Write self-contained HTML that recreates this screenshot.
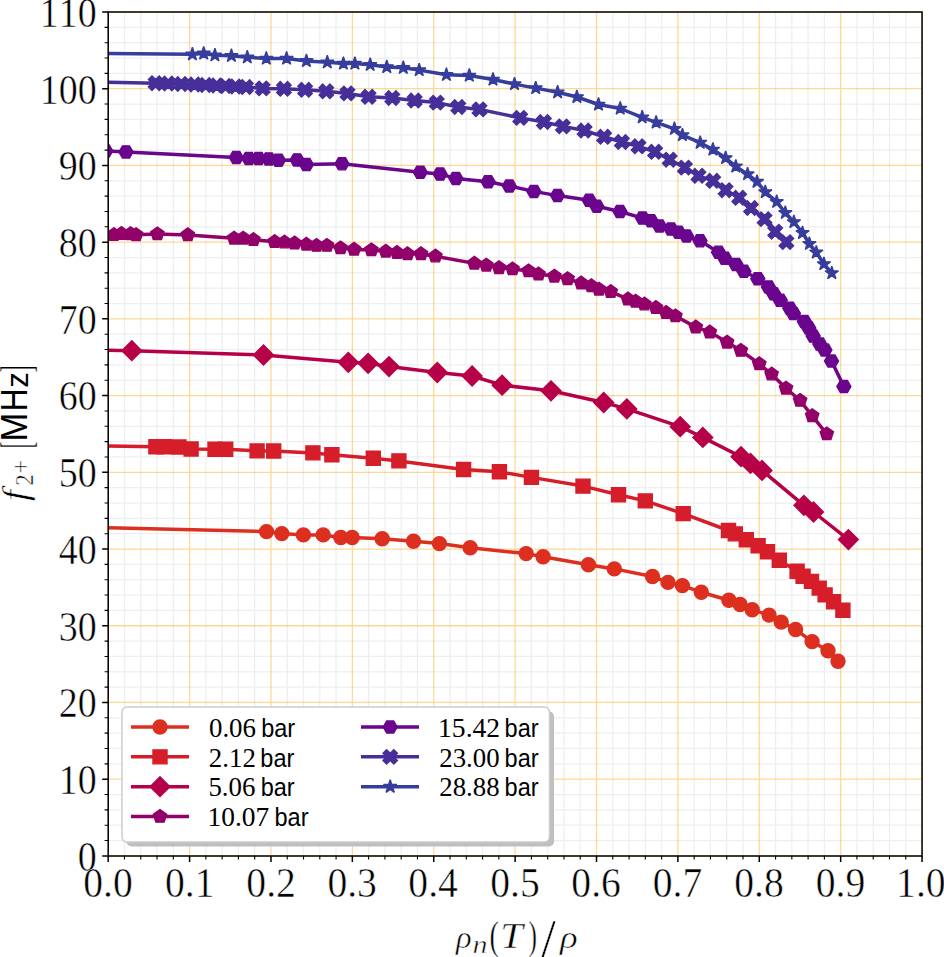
<!DOCTYPE html>
<html><head><meta charset="utf-8"><style>
html,body{margin:0;padding:0;background:#fff;width:944px;height:957px;overflow:hidden}
svg{display:block}
.t{font-family:"Liberation Serif",serif;fill:#000}
.s{font-family:"Liberation Sans",sans-serif}
.th{stroke:#fff;stroke-width:0.5px;stroke-linejoin:round}
</style></head><body>
<svg width="944" height="957" viewBox="0 0 944 957">
<rect width="944" height="957" fill="#fff"/>
<defs>
<clipPath id="ax"><rect x="108.2" y="12" width="813.85" height="843.9"/></clipPath>
<circle id="ms1" r="7" fill="#dd2f1f" stroke="#dd2f1f" stroke-width="1.4"/>
<path id="ms2" d="M-7 -7 L7 -7 L7 7 L-7 7 Z" fill="#d51e2a" stroke="#d51e2a" stroke-width="1.4" stroke-linejoin="miter"/>
<path id="ms3" d="M0 -9.9 L9.9 0 L0 9.9 L-9.9 0 Z" fill="#b60048" stroke="#b60048" stroke-width="1.4" stroke-linejoin="miter"/>
<path id="ms4" d="M0 -7 L-6.66 -2.16 L-4.11 5.66 L4.11 5.66 L6.66 -2.16 Z" fill="#920069" stroke="#920069" stroke-width="1.4" stroke-linejoin="miter"/>
<path id="ms5" d="M7 0 L3.5 -6.06 L-3.5 -6.06 L-7 0 L-3.5 6.06 L3.5 6.06 Z" fill="#6a058d" stroke="#6a058d" stroke-width="1.4" stroke-linejoin="miter"/>
<path id="ms6" d="M3.61 7.21 L7.21 3.61 L3.61 0 L7.21 -3.61 L3.61 -7.21 L0 -3.61 L-3.61 -7.21 L-7.21 -3.61 L-3.61 0 L-7.21 3.61 L-3.61 7.21 L0 3.61 Z" fill="#462f99" stroke="#462f99" stroke-width="1.4" stroke-linejoin="miter"/>
<path id="ms7" d="M0 -7 L-1.57 -2.16 L-6.66 -2.16 L-2.54 0.83 L-4.11 5.66 L0 2.67 L4.11 5.66 L2.54 0.83 L6.66 -2.16 L1.57 -2.16 Z" fill="#373d9d" stroke="#373d9d" stroke-width="1.4" stroke-linejoin="bevel"/>
</defs>
<path d="M108.2 12 V855.9 M189.58 12 V855.9 M270.97 12 V855.9 M352.36 12 V855.9 M433.74 12 V855.9 M515.12 12 V855.9 M596.51 12 V855.9 M677.89 12 V855.9 M759.28 12 V855.9 M840.66 12 V855.9 M922.05 12 V855.9 M108.2 855.9 H922.05 M108.2 779.18 H922.05 M108.2 702.46 H922.05 M108.2 625.75 H922.05 M108.2 549.03 H922.05 M108.2 472.31 H922.05 M108.2 395.59 H922.05 M108.2 318.87 H922.05 M108.2 242.15 H922.05 M108.2 165.44 H922.05 M108.2 88.72 H922.05 M108.2 12 H922.05" stroke="#ffa500" stroke-opacity="0.42" stroke-width="1.3" fill="none"/>
<path d="M124.48 12 V855.9 M140.75 12 V855.9 M157.03 12 V855.9 M173.31 12 V855.9 M205.86 12 V855.9 M222.14 12 V855.9 M238.42 12 V855.9 M254.69 12 V855.9 M287.25 12 V855.9 M303.52 12 V855.9 M319.8 12 V855.9 M336.08 12 V855.9 M368.63 12 V855.9 M384.91 12 V855.9 M401.19 12 V855.9 M417.46 12 V855.9 M450.02 12 V855.9 M466.29 12 V855.9 M482.57 12 V855.9 M498.85 12 V855.9 M531.4 12 V855.9 M547.68 12 V855.9 M563.96 12 V855.9 M580.23 12 V855.9 M612.79 12 V855.9 M629.06 12 V855.9 M645.34 12 V855.9 M661.62 12 V855.9 M694.17 12 V855.9 M710.45 12 V855.9 M726.73 12 V855.9 M743 12 V855.9 M775.56 12 V855.9 M791.83 12 V855.9 M808.11 12 V855.9 M824.39 12 V855.9 M856.94 12 V855.9 M873.22 12 V855.9 M889.5 12 V855.9 M905.77 12 V855.9 M108.2 840.56 H922.05 M108.2 825.21 H922.05 M108.2 809.87 H922.05 M108.2 794.53 H922.05 M108.2 763.84 H922.05 M108.2 748.49 H922.05 M108.2 733.15 H922.05 M108.2 717.81 H922.05 M108.2 687.12 H922.05 M108.2 671.78 H922.05 M108.2 656.43 H922.05 M108.2 641.09 H922.05 M108.2 610.4 H922.05 M108.2 595.06 H922.05 M108.2 579.71 H922.05 M108.2 564.37 H922.05 M108.2 533.68 H922.05 M108.2 518.34 H922.05 M108.2 503 H922.05 M108.2 487.65 H922.05 M108.2 456.97 H922.05 M108.2 441.62 H922.05 M108.2 426.28 H922.05 M108.2 410.93 H922.05 M108.2 380.25 H922.05 M108.2 364.9 H922.05 M108.2 349.56 H922.05 M108.2 334.22 H922.05 M108.2 303.53 H922.05 M108.2 288.19 H922.05 M108.2 272.84 H922.05 M108.2 257.5 H922.05 M108.2 226.81 H922.05 M108.2 211.47 H922.05 M108.2 196.12 H922.05 M108.2 180.78 H922.05 M108.2 150.09 H922.05 M108.2 134.75 H922.05 M108.2 119.41 H922.05 M108.2 104.06 H922.05 M108.2 73.37 H922.05 M108.2 58.03 H922.05 M108.2 42.69 H922.05 M108.2 27.34 H922.05" stroke="#a4a8ae" stroke-opacity="0.2" stroke-width="1.25" fill="none"/>
<g clip-path="url(#ax)">
<path d="M108.2 527.8 L266.5 531.6 L281.8 533.6 L303.4 534.9 L323.2 534.9 L340.8 537.5 L352.2 537.5 L382.2 538.7 L413.5 541.3 L439.4 543.6 L470.2 547.7 L526.1 553.6 L543.1 556.7 L588.4 564.8 L614.3 568.9 L652.5 576.5 L668 582.4 L682.4 585.6 L701.3 592.2 L728.9 600.3 L740.1 604.5 L752.2 609.8 L769.1 615.1 L781.2 622.1 L795.6 629.5 L812.1 641.6 L828 650.7 L838 661.3" fill="none" stroke="#dd2f1f" stroke-width="3.5" stroke-linejoin="round" stroke-linecap="butt"/>
<use href="#ms1" x="266.5" y="531.6"/>
<use href="#ms1" x="281.8" y="533.6"/>
<use href="#ms1" x="303.4" y="534.9"/>
<use href="#ms1" x="323.2" y="534.9"/>
<use href="#ms1" x="340.8" y="537.5"/>
<use href="#ms1" x="352.2" y="537.5"/>
<use href="#ms1" x="382.2" y="538.7"/>
<use href="#ms1" x="413.5" y="541.3"/>
<use href="#ms1" x="439.4" y="543.6"/>
<use href="#ms1" x="470.2" y="547.7"/>
<use href="#ms1" x="526.1" y="553.6"/>
<use href="#ms1" x="543.1" y="556.7"/>
<use href="#ms1" x="588.4" y="564.8"/>
<use href="#ms1" x="614.3" y="568.9"/>
<use href="#ms1" x="652.5" y="576.5"/>
<use href="#ms1" x="668" y="582.4"/>
<use href="#ms1" x="682.4" y="585.6"/>
<use href="#ms1" x="701.3" y="592.2"/>
<use href="#ms1" x="728.9" y="600.3"/>
<use href="#ms1" x="740.1" y="604.5"/>
<use href="#ms1" x="752.2" y="609.8"/>
<use href="#ms1" x="769.1" y="615.1"/>
<use href="#ms1" x="781.2" y="622.1"/>
<use href="#ms1" x="795.6" y="629.5"/>
<use href="#ms1" x="812.1" y="641.6"/>
<use href="#ms1" x="828" y="650.7"/>
<use href="#ms1" x="838" y="661.3"/>
<path d="M108.2 445.9 L155.9 446.7 L164.5 446.8 L178.9 447 L191.1 449 L215 449.3 L225.7 449.3 L257.1 450.9 L273.7 451 L312.9 452.9 L331.9 454.7 L373.3 458.3 L398.9 460.9 L463.6 469.5 L499.4 471.8 L531.4 477.4 L583 486.1 L618.5 494.8 L645.3 500.9 L683.2 513.6 L728.5 530.5 L735.3 533.9 L746.3 539.8 L758.1 545.8 L767.5 551.7 L779.3 560.2 L797.1 571.2 L803.1 576.3 L811.5 581.4 L819.2 588.1 L825.1 594.9 L833.6 601.7 L842.9 610.2" fill="none" stroke="#d51e2a" stroke-width="3.5" stroke-linejoin="round" stroke-linecap="butt"/>
<use href="#ms2" x="155.9" y="446.7"/>
<use href="#ms2" x="164.5" y="446.8"/>
<use href="#ms2" x="178.9" y="447"/>
<use href="#ms2" x="191.1" y="449"/>
<use href="#ms2" x="215" y="449.3"/>
<use href="#ms2" x="225.7" y="449.3"/>
<use href="#ms2" x="257.1" y="450.9"/>
<use href="#ms2" x="273.7" y="451"/>
<use href="#ms2" x="312.9" y="452.9"/>
<use href="#ms2" x="331.9" y="454.7"/>
<use href="#ms2" x="373.3" y="458.3"/>
<use href="#ms2" x="398.9" y="460.9"/>
<use href="#ms2" x="463.6" y="469.5"/>
<use href="#ms2" x="499.4" y="471.8"/>
<use href="#ms2" x="531.4" y="477.4"/>
<use href="#ms2" x="583" y="486.1"/>
<use href="#ms2" x="618.5" y="494.8"/>
<use href="#ms2" x="645.3" y="500.9"/>
<use href="#ms2" x="683.2" y="513.6"/>
<use href="#ms2" x="728.5" y="530.5"/>
<use href="#ms2" x="735.3" y="533.9"/>
<use href="#ms2" x="746.3" y="539.8"/>
<use href="#ms2" x="758.1" y="545.8"/>
<use href="#ms2" x="767.5" y="551.7"/>
<use href="#ms2" x="779.3" y="560.2"/>
<use href="#ms2" x="797.1" y="571.2"/>
<use href="#ms2" x="803.1" y="576.3"/>
<use href="#ms2" x="811.5" y="581.4"/>
<use href="#ms2" x="819.2" y="588.1"/>
<use href="#ms2" x="825.1" y="594.9"/>
<use href="#ms2" x="833.6" y="601.7"/>
<use href="#ms2" x="842.9" y="610.2"/>
<path d="M108.2 350.3 L131.8 350.7 L263.5 355 L348.3 362.3 L368.1 363.3 L389 366.6 L437.3 372.5 L472.1 376 L502.1 385.2 L551 390.8 L603.7 402.5 L626.8 408.9 L680.2 426.7 L702.8 437.4 L741 456.7 L750.5 463.4 L762 470.4 L803.9 505.3 L813.5 512 L848.4 539.6" fill="none" stroke="#b60048" stroke-width="3.5" stroke-linejoin="round" stroke-linecap="butt"/>
<use href="#ms3" x="131.8" y="350.7"/>
<use href="#ms3" x="263.5" y="355"/>
<use href="#ms3" x="348.3" y="362.3"/>
<use href="#ms3" x="368.1" y="363.3"/>
<use href="#ms3" x="389" y="366.6"/>
<use href="#ms3" x="437.3" y="372.5"/>
<use href="#ms3" x="472.1" y="376"/>
<use href="#ms3" x="502.1" y="385.2"/>
<use href="#ms3" x="551" y="390.8"/>
<use href="#ms3" x="603.7" y="402.5"/>
<use href="#ms3" x="626.8" y="408.9"/>
<use href="#ms3" x="680.2" y="426.7"/>
<use href="#ms3" x="702.8" y="437.4"/>
<use href="#ms3" x="741" y="456.7"/>
<use href="#ms3" x="750.5" y="463.4"/>
<use href="#ms3" x="762" y="470.4"/>
<use href="#ms3" x="803.9" y="505.3"/>
<use href="#ms3" x="813.5" y="512"/>
<use href="#ms3" x="848.4" y="539.6"/>
<path d="M113.9 234.7 L121.5 233.6 L130.6 233.8 L136.1 234.8 L157.4 234 L187.8 234.9 L234.1 238.3 L243.2 238.3 L253.4 239.7 L274.6 241.7 L284.4 242.2 L294.6 243.1 L306.4 244.4 L316.5 245.5 L326.9 245.5 L340.5 248 L354.1 249.4 L371.4 250 L385.8 251.4 L397 252.6 L407.5 253.9 L421 253.9 L435.4 256.2 L474.4 263.4 L486.3 265.3 L499 267.8 L512.5 269 L528.6 271 L538.5 274.1 L554.4 276.3 L567.6 278.8 L581.2 283.1 L591.4 285.9 L599 289.3 L610.7 291.7 L628 299.1 L635.6 301.3 L644.4 304.2 L655.9 307.6 L666.1 312.6 L675.4 316 L695.8 327.1 L709.8 332.1 L727.1 342.3 L740.8 350.5 L759.3 363.9 L771.6 374.2 L786 388.3 L800.1 400.5 L812.2 415.8 L826.8 434" fill="none" stroke="#920069" stroke-width="3.5" stroke-linejoin="round" stroke-linecap="butt"/>
<use href="#ms4" x="113.9" y="234.7"/>
<use href="#ms4" x="121.5" y="233.6"/>
<use href="#ms4" x="130.6" y="233.8"/>
<use href="#ms4" x="136.1" y="234.8"/>
<use href="#ms4" x="157.4" y="234"/>
<use href="#ms4" x="187.8" y="234.9"/>
<use href="#ms4" x="234.1" y="238.3"/>
<use href="#ms4" x="243.2" y="238.3"/>
<use href="#ms4" x="253.4" y="239.7"/>
<use href="#ms4" x="274.6" y="241.7"/>
<use href="#ms4" x="284.4" y="242.2"/>
<use href="#ms4" x="294.6" y="243.1"/>
<use href="#ms4" x="306.4" y="244.4"/>
<use href="#ms4" x="316.5" y="245.5"/>
<use href="#ms4" x="326.9" y="245.5"/>
<use href="#ms4" x="340.5" y="248"/>
<use href="#ms4" x="354.1" y="249.4"/>
<use href="#ms4" x="371.4" y="250"/>
<use href="#ms4" x="385.8" y="251.4"/>
<use href="#ms4" x="397" y="252.6"/>
<use href="#ms4" x="407.5" y="253.9"/>
<use href="#ms4" x="421" y="253.9"/>
<use href="#ms4" x="435.4" y="256.2"/>
<use href="#ms4" x="474.4" y="263.4"/>
<use href="#ms4" x="486.3" y="265.3"/>
<use href="#ms4" x="499" y="267.8"/>
<use href="#ms4" x="512.5" y="269"/>
<use href="#ms4" x="528.6" y="271"/>
<use href="#ms4" x="538.5" y="274.1"/>
<use href="#ms4" x="554.4" y="276.3"/>
<use href="#ms4" x="567.6" y="278.8"/>
<use href="#ms4" x="581.2" y="283.1"/>
<use href="#ms4" x="591.4" y="285.9"/>
<use href="#ms4" x="599" y="289.3"/>
<use href="#ms4" x="610.7" y="291.7"/>
<use href="#ms4" x="628" y="299.1"/>
<use href="#ms4" x="635.6" y="301.3"/>
<use href="#ms4" x="644.4" y="304.2"/>
<use href="#ms4" x="655.9" y="307.6"/>
<use href="#ms4" x="666.1" y="312.6"/>
<use href="#ms4" x="675.4" y="316"/>
<use href="#ms4" x="695.8" y="327.1"/>
<use href="#ms4" x="709.8" y="332.1"/>
<use href="#ms4" x="727.1" y="342.3"/>
<use href="#ms4" x="740.8" y="350.5"/>
<use href="#ms4" x="759.3" y="363.9"/>
<use href="#ms4" x="771.6" y="374.2"/>
<use href="#ms4" x="786" y="388.3"/>
<use href="#ms4" x="800.1" y="400.5"/>
<use href="#ms4" x="812.2" y="415.8"/>
<use href="#ms4" x="826.8" y="434"/>
<path d="M105.7 150.9 L126 151.9 L236.3 157.5 L248.8 158.6 L258.6 158.6 L268.8 158.9 L278.5 160.3 L297.1 159.9 L306.4 164.5 L342 163.8 L420.3 172.3 L440.1 174.1 L455.9 178.4 L488.1 181.7 L509.3 186 L533.9 191.4 L557.5 195.6 L589.2 200.3 L596.8 206.3 L620 211.5 L642.5 218.1 L651 220.7 L659.5 226 L671 229.1 L678.5 232.3 L686.5 236 L700 240.8 L718.5 252.2 L724.8 258.3 L736 264.4 L743.9 271.3 L757.8 278.7 L768.5 287.1 L773.7 293.7 L780.2 300.2 L789.8 308.3 L793.4 313.4 L804.4 321.5 L808.8 328 L813.2 336.1 L819.8 344.1 L824.9 350 L831.5 361 L843.9 386.6" fill="none" stroke="#6a058d" stroke-width="3.5" stroke-linejoin="round" stroke-linecap="butt"/>
<use href="#ms5" x="105.7" y="150.9"/>
<use href="#ms5" x="126" y="151.9"/>
<use href="#ms5" x="236.3" y="157.5"/>
<use href="#ms5" x="248.8" y="158.6"/>
<use href="#ms5" x="258.6" y="158.6"/>
<use href="#ms5" x="268.8" y="158.9"/>
<use href="#ms5" x="278.5" y="160.3"/>
<use href="#ms5" x="297.1" y="159.9"/>
<use href="#ms5" x="306.4" y="164.5"/>
<use href="#ms5" x="342" y="163.8"/>
<use href="#ms5" x="420.3" y="172.3"/>
<use href="#ms5" x="440.1" y="174.1"/>
<use href="#ms5" x="455.9" y="178.4"/>
<use href="#ms5" x="488.1" y="181.7"/>
<use href="#ms5" x="509.3" y="186"/>
<use href="#ms5" x="533.9" y="191.4"/>
<use href="#ms5" x="557.5" y="195.6"/>
<use href="#ms5" x="589.2" y="200.3"/>
<use href="#ms5" x="596.8" y="206.3"/>
<use href="#ms5" x="620" y="211.5"/>
<use href="#ms5" x="642.5" y="218.1"/>
<use href="#ms5" x="651" y="220.7"/>
<use href="#ms5" x="659.5" y="226"/>
<use href="#ms5" x="671" y="229.1"/>
<use href="#ms5" x="678.5" y="232.3"/>
<use href="#ms5" x="686.5" y="236"/>
<use href="#ms5" x="700" y="240.8"/>
<use href="#ms5" x="718.5" y="252.2"/>
<use href="#ms5" x="724.8" y="258.3"/>
<use href="#ms5" x="736" y="264.4"/>
<use href="#ms5" x="743.9" y="271.3"/>
<use href="#ms5" x="757.8" y="278.7"/>
<use href="#ms5" x="768.5" y="287.1"/>
<use href="#ms5" x="773.7" y="293.7"/>
<use href="#ms5" x="780.2" y="300.2"/>
<use href="#ms5" x="789.8" y="308.3"/>
<use href="#ms5" x="793.4" y="313.4"/>
<use href="#ms5" x="804.4" y="321.5"/>
<use href="#ms5" x="808.8" y="328"/>
<use href="#ms5" x="813.2" y="336.1"/>
<use href="#ms5" x="819.8" y="344.1"/>
<use href="#ms5" x="824.9" y="350"/>
<use href="#ms5" x="831.5" y="361"/>
<use href="#ms5" x="843.9" y="386.6"/>
<path d="M108.2 82.2 L155.6 83.2 L168.2 83.5 L181.4 84 L194.6 84.5 L205.6 85 L216.7 85.5 L225.5 86 L235.5 86.5 L246 87 L262.7 88.4 L283.9 88.8 L305.1 89.8 L326.3 91.3 L347.5 93.4 L368.6 96.8 L392.3 98 L414.7 100.5 L436.8 102.6 L458.3 107 L479.5 109.4 L520.2 117.9 L543.9 122 L562.9 126.4 L584.6 130.5 L604.1 136.8 L621.9 142 L638.5 146.3 L655.1 151.8 L669.7 159.7 L684.9 167.6 L698.5 175.8 L713.2 180.8 L725.6 190.2 L739.2 197.8 L751 208 L764.6 219.1 L775.2 231.7 L786.4 242.1" fill="none" stroke="#462f99" stroke-width="3.5" stroke-linejoin="round" stroke-linecap="butt"/>
<use href="#ms6" x="155.6" y="83.2"/>
<use href="#ms6" x="168.2" y="83.5"/>
<use href="#ms6" x="181.4" y="84"/>
<use href="#ms6" x="194.6" y="84.5"/>
<use href="#ms6" x="205.6" y="85"/>
<use href="#ms6" x="216.7" y="85.5"/>
<use href="#ms6" x="225.5" y="86"/>
<use href="#ms6" x="235.5" y="86.5"/>
<use href="#ms6" x="246" y="87"/>
<use href="#ms6" x="262.7" y="88.4"/>
<use href="#ms6" x="283.9" y="88.8"/>
<use href="#ms6" x="305.1" y="89.8"/>
<use href="#ms6" x="326.3" y="91.3"/>
<use href="#ms6" x="347.5" y="93.4"/>
<use href="#ms6" x="368.6" y="96.8"/>
<use href="#ms6" x="392.3" y="98"/>
<use href="#ms6" x="414.7" y="100.5"/>
<use href="#ms6" x="436.8" y="102.6"/>
<use href="#ms6" x="458.3" y="107"/>
<use href="#ms6" x="479.5" y="109.4"/>
<use href="#ms6" x="520.2" y="117.9"/>
<use href="#ms6" x="543.9" y="122"/>
<use href="#ms6" x="562.9" y="126.4"/>
<use href="#ms6" x="584.6" y="130.5"/>
<use href="#ms6" x="604.1" y="136.8"/>
<use href="#ms6" x="621.9" y="142"/>
<use href="#ms6" x="638.5" y="146.3"/>
<use href="#ms6" x="655.1" y="151.8"/>
<use href="#ms6" x="669.7" y="159.7"/>
<use href="#ms6" x="684.9" y="167.6"/>
<use href="#ms6" x="698.5" y="175.8"/>
<use href="#ms6" x="713.2" y="180.8"/>
<use href="#ms6" x="725.6" y="190.2"/>
<use href="#ms6" x="739.2" y="197.8"/>
<use href="#ms6" x="751" y="208"/>
<use href="#ms6" x="764.6" y="219.1"/>
<use href="#ms6" x="775.2" y="231.7"/>
<use href="#ms6" x="786.4" y="242.1"/>
<path d="M108.2 53.6 L192.4 54.3 L203.7 53.4 L214.9 55.3 L231.4 55.8 L247.3 57.3 L266.3 58.5 L286.6 58.5 L306.4 60.9 L327.3 62.3 L343.4 63.6 L354.9 63.6 L370.2 64.8 L386.8 67 L403.3 67.8 L419.2 70.1 L446.4 74.8 L469.3 75.5 L493 79.5 L514.5 84.1 L535.7 88.1 L557.6 92.3 L576.9 97 L598.5 104.5 L620.2 108.5 L642.2 117.3 L656.1 122.4 L674.4 128.8 L682.4 135.1 L700.2 142.7 L712.9 149.5 L725.6 158 L735.8 166.4 L747.6 174.1 L757 181.7 L765.3 192 L776.7 201.8 L785.3 212.8 L793.9 222 L802.5 232.9 L809.4 243.8 L816.3 252.4 L823.9 264 L831.8 273.1" fill="none" stroke="#373d9d" stroke-width="3.5" stroke-linejoin="round" stroke-linecap="butt"/>
<use href="#ms7" x="192.4" y="54.3"/>
<use href="#ms7" x="203.7" y="53.4"/>
<use href="#ms7" x="214.9" y="55.3"/>
<use href="#ms7" x="231.4" y="55.8"/>
<use href="#ms7" x="247.3" y="57.3"/>
<use href="#ms7" x="266.3" y="58.5"/>
<use href="#ms7" x="286.6" y="58.5"/>
<use href="#ms7" x="306.4" y="60.9"/>
<use href="#ms7" x="327.3" y="62.3"/>
<use href="#ms7" x="343.4" y="63.6"/>
<use href="#ms7" x="354.9" y="63.6"/>
<use href="#ms7" x="370.2" y="64.8"/>
<use href="#ms7" x="386.8" y="67"/>
<use href="#ms7" x="403.3" y="67.8"/>
<use href="#ms7" x="419.2" y="70.1"/>
<use href="#ms7" x="446.4" y="74.8"/>
<use href="#ms7" x="469.3" y="75.5"/>
<use href="#ms7" x="493" y="79.5"/>
<use href="#ms7" x="514.5" y="84.1"/>
<use href="#ms7" x="535.7" y="88.1"/>
<use href="#ms7" x="557.6" y="92.3"/>
<use href="#ms7" x="576.9" y="97"/>
<use href="#ms7" x="598.5" y="104.5"/>
<use href="#ms7" x="620.2" y="108.5"/>
<use href="#ms7" x="642.2" y="117.3"/>
<use href="#ms7" x="656.1" y="122.4"/>
<use href="#ms7" x="674.4" y="128.8"/>
<use href="#ms7" x="682.4" y="135.1"/>
<use href="#ms7" x="700.2" y="142.7"/>
<use href="#ms7" x="712.9" y="149.5"/>
<use href="#ms7" x="725.6" y="158"/>
<use href="#ms7" x="735.8" y="166.4"/>
<use href="#ms7" x="747.6" y="174.1"/>
<use href="#ms7" x="757" y="181.7"/>
<use href="#ms7" x="765.3" y="192"/>
<use href="#ms7" x="776.7" y="201.8"/>
<use href="#ms7" x="785.3" y="212.8"/>
<use href="#ms7" x="793.9" y="222"/>
<use href="#ms7" x="802.5" y="232.9"/>
<use href="#ms7" x="809.4" y="243.8"/>
<use href="#ms7" x="816.3" y="252.4"/>
<use href="#ms7" x="823.9" y="264"/>
<use href="#ms7" x="831.8" y="273.1"/>
</g>
<path d="M108.2 12 V855.9 H922.05 V12 Z" fill="none" stroke="#000" stroke-width="1.5" stroke-linejoin="miter"/>
<path d="M108.2 855.9 v6 M189.58 855.9 v6 M270.97 855.9 v6 M352.36 855.9 v6 M433.74 855.9 v6 M515.12 855.9 v6 M596.51 855.9 v6 M677.89 855.9 v6 M759.28 855.9 v6 M840.66 855.9 v6 M922.05 855.9 v6 M108.2 855.9 h-6 M108.2 779.18 h-6 M108.2 702.46 h-6 M108.2 625.75 h-6 M108.2 549.03 h-6 M108.2 472.31 h-6 M108.2 395.59 h-6 M108.2 318.87 h-6 M108.2 242.15 h-6 M108.2 165.44 h-6 M108.2 88.72 h-6 M108.2 12 h-6" stroke="#000" stroke-width="1.5" fill="none"/>
<path d="M124.48 855.9 v3.6 M140.75 855.9 v3.6 M157.03 855.9 v3.6 M173.31 855.9 v3.6 M205.86 855.9 v3.6 M222.14 855.9 v3.6 M238.42 855.9 v3.6 M254.69 855.9 v3.6 M287.25 855.9 v3.6 M303.52 855.9 v3.6 M319.8 855.9 v3.6 M336.08 855.9 v3.6 M368.63 855.9 v3.6 M384.91 855.9 v3.6 M401.19 855.9 v3.6 M417.46 855.9 v3.6 M450.02 855.9 v3.6 M466.29 855.9 v3.6 M482.57 855.9 v3.6 M498.85 855.9 v3.6 M531.4 855.9 v3.6 M547.68 855.9 v3.6 M563.96 855.9 v3.6 M580.23 855.9 v3.6 M612.79 855.9 v3.6 M629.06 855.9 v3.6 M645.34 855.9 v3.6 M661.62 855.9 v3.6 M694.17 855.9 v3.6 M710.45 855.9 v3.6 M726.73 855.9 v3.6 M743 855.9 v3.6 M775.56 855.9 v3.6 M791.83 855.9 v3.6 M808.11 855.9 v3.6 M824.39 855.9 v3.6 M856.94 855.9 v3.6 M873.22 855.9 v3.6 M889.5 855.9 v3.6 M905.77 855.9 v3.6 M108.2 840.56 h-3.6 M108.2 825.21 h-3.6 M108.2 809.87 h-3.6 M108.2 794.53 h-3.6 M108.2 763.84 h-3.6 M108.2 748.49 h-3.6 M108.2 733.15 h-3.6 M108.2 717.81 h-3.6 M108.2 687.12 h-3.6 M108.2 671.78 h-3.6 M108.2 656.43 h-3.6 M108.2 641.09 h-3.6 M108.2 610.4 h-3.6 M108.2 595.06 h-3.6 M108.2 579.71 h-3.6 M108.2 564.37 h-3.6 M108.2 533.68 h-3.6 M108.2 518.34 h-3.6 M108.2 503 h-3.6 M108.2 487.65 h-3.6 M108.2 456.97 h-3.6 M108.2 441.62 h-3.6 M108.2 426.28 h-3.6 M108.2 410.93 h-3.6 M108.2 380.25 h-3.6 M108.2 364.9 h-3.6 M108.2 349.56 h-3.6 M108.2 334.22 h-3.6 M108.2 303.53 h-3.6 M108.2 288.19 h-3.6 M108.2 272.84 h-3.6 M108.2 257.5 h-3.6 M108.2 226.81 h-3.6 M108.2 211.47 h-3.6 M108.2 196.12 h-3.6 M108.2 180.78 h-3.6 M108.2 150.09 h-3.6 M108.2 134.75 h-3.6 M108.2 119.41 h-3.6 M108.2 104.06 h-3.6 M108.2 73.37 h-3.6 M108.2 58.03 h-3.6 M108.2 42.69 h-3.6 M108.2 27.34 h-3.6" stroke="#000" stroke-width="1.1" fill="none"/>
<text transform="matrix(0.912 0 0 1 77.675 870.8)" style='font-family:"Liberation Serif",serif;font-size:41.6px;font-style:normal;font-kerning:none' class="th">0</text>
<text transform="matrix(0.912 0 0 1 58.706 794.082)" style='font-family:"Liberation Serif",serif;font-size:41.6px;font-style:normal;font-kerning:none' class="th">10</text>
<text transform="matrix(0.912 0 0 1 58.706 717.364)" style='font-family:"Liberation Serif",serif;font-size:41.6px;font-style:normal;font-kerning:none' class="th">20</text>
<text transform="matrix(0.912 0 0 1 58.706 640.645)" style='font-family:"Liberation Serif",serif;font-size:41.6px;font-style:normal;font-kerning:none' class="th">30</text>
<text transform="matrix(0.912 0 0 1 58.706 563.927)" style='font-family:"Liberation Serif",serif;font-size:41.6px;font-style:normal;font-kerning:none' class="th">40</text>
<text transform="matrix(0.912 0 0 1 58.706 487.209)" style='font-family:"Liberation Serif",serif;font-size:41.6px;font-style:normal;font-kerning:none' class="th">50</text>
<text transform="matrix(0.912 0 0 1 58.706 410.491)" style='font-family:"Liberation Serif",serif;font-size:41.6px;font-style:normal;font-kerning:none' class="th">60</text>
<text transform="matrix(0.912 0 0 1 58.706 333.773)" style='font-family:"Liberation Serif",serif;font-size:41.6px;font-style:normal;font-kerning:none' class="th">70</text>
<text transform="matrix(0.912 0 0 1 58.706 257.055)" style='font-family:"Liberation Serif",serif;font-size:41.6px;font-style:normal;font-kerning:none' class="th">80</text>
<text transform="matrix(0.912 0 0 1 58.706 180.336)" style='font-family:"Liberation Serif",serif;font-size:41.6px;font-style:normal;font-kerning:none' class="th">90</text>
<text transform="matrix(0.912 0 0 1 39.736 103.618)" style='font-family:"Liberation Serif",serif;font-size:41.6px;font-style:normal;font-kerning:none' class="th">100</text>
<text transform="matrix(0.912 0 0 1 39.736 26.9)" style='font-family:"Liberation Serif",serif;font-size:41.6px;font-style:normal;font-kerning:none' class="th">110</text>
<text transform="matrix(0.953 0 0 1 83.222 896.7)" style='font-family:"Liberation Serif",serif;font-size:41.6px;font-style:normal;font-kerning:none' class="th">0.0</text>
<text transform="matrix(0.953 0 0 1 165.043 896.7)" style='font-family:"Liberation Serif",serif;font-size:41.6px;font-style:normal;font-kerning:none' class="th">0.1</text>
<text transform="matrix(0.953 0 0 1 246.331 896.7)" style='font-family:"Liberation Serif",serif;font-size:41.6px;font-style:normal;font-kerning:none' class="th">0.2</text>
<text transform="matrix(0.953 0 0 1 327.396 896.7)" style='font-family:"Liberation Serif",serif;font-size:41.6px;font-style:normal;font-kerning:none' class="th">0.3</text>
<text transform="matrix(0.953 0 0 1 408.317 896.7)" style='font-family:"Liberation Serif",serif;font-size:41.6px;font-style:normal;font-kerning:none' class="th">0.4</text>
<text transform="matrix(0.953 0 0 1 490.166 896.7)" style='font-family:"Liberation Serif",serif;font-size:41.6px;font-style:normal;font-kerning:none' class="th">0.5</text>
<text transform="matrix(0.953 0 0 1 571.367 896.7)" style='font-family:"Liberation Serif",serif;font-size:41.6px;font-style:normal;font-kerning:none' class="th">0.6</text>
<text transform="matrix(0.953 0 0 1 652.733 896.7)" style='font-family:"Liberation Serif",serif;font-size:41.6px;font-style:normal;font-kerning:none' class="th">0.7</text>
<text transform="matrix(0.953 0 0 1 734.302 896.7)" style='font-family:"Liberation Serif",serif;font-size:41.6px;font-style:normal;font-kerning:none' class="th">0.8</text>
<text transform="matrix(0.953 0 0 1 815.745 896.7)" style='font-family:"Liberation Serif",serif;font-size:41.6px;font-style:normal;font-kerning:none' class="th">0.9</text>
<text transform="matrix(0.953 0 0 1 896.085 896.7)" style='font-family:"Liberation Serif",serif;font-size:41.6px;font-style:normal;font-kerning:none' class="th">1.0</text>
<text transform="matrix(1.041 0 0 1 456.028 948.3)" style='font-family:"Liberation Serif",serif;font-size:31.327px;font-style:italic;font-kerning:none' class="th">ρ</text>
<text transform="matrix(1.179 0 0 1 472.529 952.8)" style='font-family:"Liberation Serif",serif;font-size:25.467px;font-style:italic;font-kerning:none' class="th">n</text>
<text transform="matrix(0.689 0 0 1 489.568 948.836)" style='font-family:"Liberation Serif",serif;font-size:40.695px;font-style:normal;font-kerning:none' class="th">(</text>
<text transform="matrix(1.107 0 0 1 500.246 948)" style='font-family:"Liberation Serif",serif;font-size:36.653px;font-style:italic;font-kerning:none' class="th">T</text>
<text transform="matrix(0.622 0 0 1 528.584 948.836)" style='font-family:"Liberation Serif",serif;font-size:40.695px;font-style:normal;font-kerning:none' class="th">)</text>
<text transform="matrix(0.966 0 0 1 541.1 956.961)" style='font-family:"Liberation Serif",serif;font-size:55.161px;font-style:normal;font-kerning:none' class="th">/</text>
<text transform="matrix(1.13 0 0 1 559.935 948.3)" style='font-family:"Liberation Serif",serif;font-size:32.606px;font-style:italic;font-kerning:none' class="th">ρ</text>
<g transform="translate(27.5 502.2) rotate(-90)">
<text transform="matrix(1.142 0 0 1 1.044 -0.768)" style='font-family:"Liberation Serif",serif;font-size:35.551px;font-style:italic;font-kerning:none' class="th">f</text>
<text transform="matrix(0.96 0 0 1 16.481 5)" style='font-family:"Liberation Serif",serif;font-size:24.165px;font-style:normal;font-kerning:none' class="th">2</text>
<text transform="matrix(1.01 0 0 1 28.78 1.605)" style='font-family:"Liberation Serif",serif;font-size:24.258px;font-style:normal;font-kerning:none' class="th">+</text>
<text transform="matrix(0.465 0 0 1 53.767 3.051)" style='font-family:"Liberation Serif",serif;font-size:44.464px;font-style:normal;font-kerning:none' class="th">[</text>
<text transform="matrix(0.943 0 0 1 60.767 -0.1)" style='font-family:"Liberation Sans",sans-serif;font-size:36.629px;font-style:normal;font-kerning:none'>M</text>
<text transform="matrix(0.86 0 0 1 91.015 -0.1)" style='font-family:"Liberation Sans",sans-serif;font-size:36.629px;font-style:normal;font-kerning:none'>H</text>
<text transform="matrix(1.025 0 0 1 114.334 0.1)" style='font-family:"Liberation Sans",sans-serif;font-size:30.474px;font-style:normal;font-kerning:none'>z</text>
<text transform="matrix(0.465 0 0 1 129.854 3.051)" style='font-family:"Liberation Serif",serif;font-size:44.464px;font-style:normal;font-kerning:none' class="th">]</text>
</g>
<rect x="126.5" y="711.5" width="427.5" height="135" rx="5" fill="#bfbfbf" />
<rect x="122" y="707" width="427.5" height="135" rx="5" fill="#fff" stroke="#cccccc" stroke-width="1.5"/>
<path d="M131 727 H189" stroke="#dd2f1f" stroke-width="3.5"/>
<use href="#ms1" x="160" y="727"/>
<text transform="matrix(0.97 0 0 1 208.977 736.8)" style='font-family:"Liberation Serif",serif;font-size:27.7px;font-style:normal;font-kerning:none'>0.06</text>
<text transform="matrix(0.905 0 0 1 261.181 736.746)" style='font-family:"Liberation Sans",sans-serif;font-size:26.009px;font-style:normal;font-kerning:none'>bar</text>
<path d="M131 756.83 H189" stroke="#d51e2a" stroke-width="3.5"/>
<use href="#ms2" x="160" y="756.83"/>
<text transform="matrix(0.97 0 0 1 208.819 766.63)" style='font-family:"Liberation Serif",serif;font-size:27.7px;font-style:normal;font-kerning:none'>2.12</text>
<text transform="matrix(0.905 0 0 1 260.341 766.576)" style='font-family:"Liberation Sans",sans-serif;font-size:26.009px;font-style:normal;font-kerning:none'>bar</text>
<path d="M131 786.66 H189" stroke="#b60048" stroke-width="3.5"/>
<use href="#ms3" x="160" y="786.66"/>
<text transform="matrix(0.97 0 0 1 208.439 796.46)" style='font-family:"Liberation Serif",serif;font-size:27.7px;font-style:normal;font-kerning:none'>5.06</text>
<text transform="matrix(0.905 0 0 1 260.643 796.406)" style='font-family:"Liberation Sans",sans-serif;font-size:26.009px;font-style:normal;font-kerning:none'>bar</text>
<path d="M131 816.5 H189" stroke="#920069" stroke-width="3.5"/>
<use href="#ms4" x="160" y="816.5"/>
<text transform="matrix(0.99 0 0 1 207.59 826.3)" style='font-family:"Liberation Serif",serif;font-size:27.7px;font-style:normal;font-kerning:none'>10.07</text>
<text transform="matrix(0.905 0 0 1 274.483 826.246)" style='font-family:"Liberation Sans",sans-serif;font-size:26.009px;font-style:normal;font-kerning:none'>bar</text>
<path d="M361 727 H419" stroke="#6a058d" stroke-width="3.5"/>
<use href="#ms5" x="390.2" y="727"/>
<text transform="matrix(0.996 0 0 1 438.076 736.8)" style='font-family:"Liberation Serif",serif;font-size:27.7px;font-style:normal;font-kerning:none'>15.42</text>
<text transform="matrix(0.905 0 0 1 504.583 736.746)" style='font-family:"Liberation Sans",sans-serif;font-size:26.009px;font-style:normal;font-kerning:none'>bar</text>
<path d="M361 756.83 H419" stroke="#462f99" stroke-width="3.5"/>
<use href="#ms6" x="390.2" y="756.83"/>
<text transform="matrix(0.967 0 0 1 439.322 766.63)" style='font-family:"Liberation Serif",serif;font-size:27.7px;font-style:normal;font-kerning:none'>23.00</text>
<text transform="matrix(0.905 0 0 1 504.583 766.576)" style='font-family:"Liberation Sans",sans-serif;font-size:26.009px;font-style:normal;font-kerning:none'>bar</text>
<path d="M361 786.66 H419" stroke="#373d9d" stroke-width="3.5"/>
<use href="#ms7" x="390.2" y="786.66"/>
<text transform="matrix(0.967 0 0 1 439.322 796.46)" style='font-family:"Liberation Serif",serif;font-size:27.7px;font-style:normal;font-kerning:none'>28.88</text>
<text transform="matrix(0.905 0 0 1 504.583 796.406)" style='font-family:"Liberation Sans",sans-serif;font-size:26.009px;font-style:normal;font-kerning:none'>bar</text>
</svg></body></html>
